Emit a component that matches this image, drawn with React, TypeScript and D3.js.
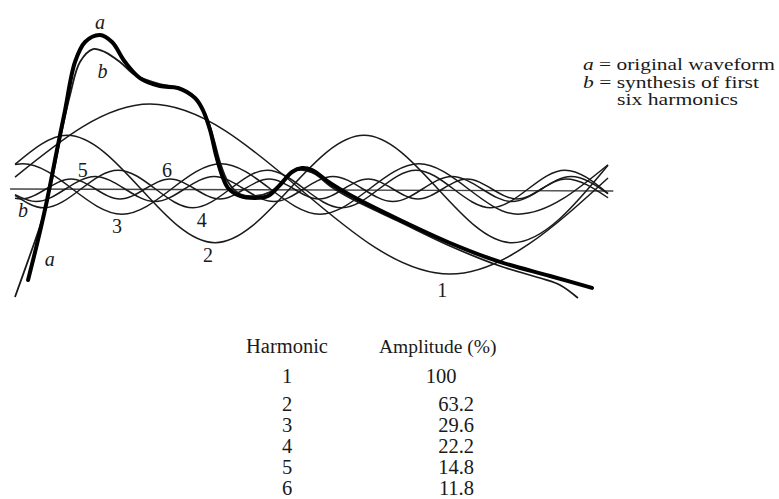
import React from "react";
import * as d3 from "d3";

// x: phase of the fundamental in degrees (0–360); y: amplitude in % of the fundamental
type P = [number, number];

const harmonic1: P[] = [[0, 14], [81.7, 100], [263.2, -100], [358.8, 13]];
const harmonic2: P[] = [[0, 29], [31.5, 63.2], [121, -63.2], [211.2, 63.2], [300.7, -63.2], [358.8, 28]];
const harmonic3: P[] = [[0, 28.7], [4.8, 29.6], [64.7, -29.6], [124.6, 29.6], [184.5, -29.6], [244.4, 29.6], [304.3, -29.6], [358.8, 28.5]];
const harmonic4: P[] = [[0, -7.5], [17.5, -22.2], [62.3, 22.2], [107.7, -22.2], [152.5, 22.2], [197.8, -22.2], [242.6, 22.2], [288, -22.2], [332.8, 22.2], [358.8, -5.4]];
const harmonic5: P[] = [[0, -6.6], [12.7, -14.8], [48.4, 14.8], [84.7, -14.8], [120.4, 14.8], [156.7, -14.8], [192.4, 14.8], [228.7, -14.8], [264.4, 14.8], [300.7, -14.8], [336.4, 14.8], [358.8, -5.5]];
const harmonic6: P[] = [[0, -11], [3.6, -11.8], [33.9, 11.8], [63.5, -11.8], [93.8, 11.8], [124, -11.8], [153.7, 11.8], [183.9, -11.8], [213.6, 11.8], [243.8, -11.8], [273.5, 11.8], [303.7, -11.8], [333.4, 11.8], [358.8, -10.3]];

const waveformA: P[] = [
  [7.9, -107], [13.9, -60], [19.4, -12.9], [25.4, 45.9], [30.3, 92.9], [36.3, 149.4], [42.4, 172.9],
  [51.4, 181.1], [58.7, 172.9], [66.6, 149.4], [75.6, 130.5], [87.7, 121.1], [98.6, 118.8], [108.9, 107],
  [113.7, 92.9], [118, 69.4], [121.6, 40], [125.2, 16.5], [128.9, 1.2], [136.1, -8.2], [145.2, -10.6],
  [153.1, -8.2], [160.3, 4.7], [167.6, 20], [173.6, 24.7], [179.7, 22.3], [190.6, 7.1], [202.7, -7.1],
  [232.9, -36.5], [263.2, -63.5], [293.4, -85.8], [323.7, -102.3], [349.1, -116.4],
];

const synthesisB: P[] = [
  [0, -127], [9.1, -77.6], [16.9, -32.9], [22.4, 10.6], [27.2, 57.6], [33.3, 110.5], [39.3, 149.4],
  [47.2, 164.6], [54.5, 161.1], [63.5, 149.4], [72.6, 134.1], [87.7, 123.5], [99.8, 118.8], [110.1, 104.7],
  [116.2, 83.5], [120.4, 57.6], [124, 31.8], [128.9, 8.2], [136.1, -5.9], [145.2, -8.2], [154.3, -3.5],
  [161.5, 8.2], [167.6, 20], [174.2, 22.3], [181.5, 17.6], [190.6, 3.5], [202.7, -10.6], [232.9, -38.8],
  [263.2, -67], [293.4, -90.6], [317.6, -104.7], [329.7, -112.9], [340.6, -128.2],
];

const harmonics: P[][] = [harmonic1, harmonic2, harmonic3, harmonic4, harmonic5, harmonic6];

// curve labels: text and anchor (deg, %)
const curveLabels: { t: string; p: P; italic: boolean }[] = [
  { t: "a", p: [51.4, 197], italic: true },
  { t: "b", p: [53, 139], italic: true },
  { t: "b", p: [4.8, -25], italic: true },
  { t: "a", p: [21, -82], italic: true },
  { t: "1", p: [258.5, -119], italic: false },
  { t: "2", p: [116.8, -78], italic: false },
  { t: "3", p: [61.7, -44], italic: false },
  { t: "4", p: [113, -36], italic: false },
  { t: "5", p: [41, 22], italic: false },
  { t: "6", p: [92, 22], italic: false },
];

const legendLines = ["original waveform", "synthesis of first", "six harmonics"];
const legendKeys = ["a", "b", ""];

const harmonicNumbers = ["1", "2", "3", "4", "5", "6"];
const amplitudes = ["100", "63.2", "29.6", "22.2", "14.8", "11.8"];

export default function App() {
  const x = d3.scaleLinear().domain([0, 360]).range([15, 610]);
  const y = d3.scaleLinear().domain([-100, 100]).range([274, 104]);

  const harmLine = d3.line<P>().x((d) => x(d[0])).y((d) => y(d[1])).curve(d3.curveMonotoneX);
  const waveLine = d3.line<P>().x((d) => x(d[0])).y((d) => y(d[1])).curve(d3.curveCatmullRom.alpha(0.5));

  const serif = "'Liberation Serif', 'DejaVu Serif', serif";
  const ink = "#1a1a1a";
  const rowY = [376, 404, 425, 446, 467, 488];
  const legendX = [583, 583, 617];
  const legendW = [192, 176, 121];

  return (
    <svg width={779} height={499} style={{ position: "fixed", left: 0, top: 0, background: "#fff" }} fontFamily={serif}>
      <rect width={779} height={499} fill="#fff" />
      <line x1={x(-3)} x2={x(362)} y1={y(0)} y2={y(0) + 2} stroke="#444" strokeWidth={1.4} />
      {harmonics.map((h, i) => (
        <path key={i} d={harmLine(h) || ""} fill="none" stroke={ink} strokeWidth={1.5} />
      ))}
      <path d={waveLine(synthesisB) || ""} fill="none" stroke={ink} strokeWidth={1.8} />
      <path d={waveLine(waveformA) || ""} fill="none" stroke="#000" strokeWidth={4} strokeLinecap="round" />
      {curveLabels.map((l, i) => (
        <text key={i} x={x(l.p[0])} y={y(l.p[1])} dy="0.35em" textAnchor="middle" fontSize={20}
          fontStyle={l.italic ? "italic" : "normal"} fill={ink}>{l.t}</text>
      ))}
      {legendLines.map((s, i) => (
        <text key={i} x={legendX[i]} y={65 + i * 17.5} dy="0.32em" fontSize={16} fill={ink}
          textLength={legendW[i]} lengthAdjust="spacingAndGlyphs">
          {legendKeys[i] ? <tspan fontStyle="italic">{legendKeys[i]}</tspan> : null}
          {legendKeys[i] ? " = " + s : s}
        </text>
      ))}
      <text x={287} y={346} dy="0.35em" textAnchor="middle" fontSize={20.5} fill={ink}>Harmonic</text>
      <text x={379} y={346} dy="0.35em" fontSize={19.5} fill={ink}>Amplitude (%)</text>
      {harmonicNumbers.map((h, i) => (
        <text key={"h" + i} x={287} y={rowY[i]} dy="0.33em" textAnchor="middle" fontSize={20.5} fill={ink}>{h}</text>
      ))}
      {amplitudes.map((a, i) => (
        <text key={"a" + i} x={i === 0 ? 441 : 474} y={rowY[i]} dy="0.33em" textAnchor={i === 0 ? "middle" : "end"} fontSize={20.5} fill={ink}>{a}</text>
      ))}
    </svg>
  );
}
